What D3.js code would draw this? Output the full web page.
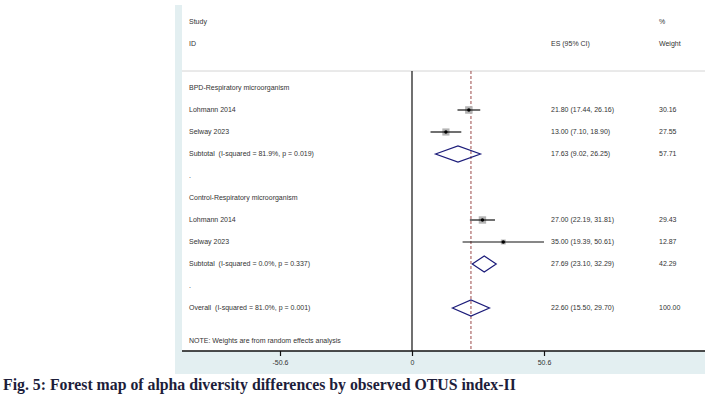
<!DOCTYPE html>
<html>
<head>
<meta charset="utf-8">
<script src="https://cdn.jsdelivr.net/npm/d3@7"></script>
<style>
  body { margin: 0; background: #fff; }
  svg { display: block; }
  .lbl { font-family: "Liberation Sans", Arial, sans-serif; font-size: 7px; fill: #333; white-space: pre; }
  .caption { font-family: "Liberation Serif", "Times New Roman", serif; font-weight: bold; font-size: 15.8px; fill: #1d1d3a; }
</style>
</head>
<body>
<div id="chart"></div>
<script>
const WIDTH = 714
const HEIGHT = 396

// data
const groups = ['BPD-Respiratory microorganism', 'Control-Respiratory microorganism']
const studyNames = ['Lohmann 2014', 'Selway 2023', 'Lohmann 2014', 'Selway 2023']
const studyGroup = [0, 0, 1, 1]
const studyES = [21.80, 13.00, 27.00, 35.00]
const studyLo = [17.44, 7.10, 22.19, 19.39]
const studyHi = [26.16, 18.90, 31.81, 50.61]
const studyWeight = [30.16, 27.55, 29.43, 12.87]

const subtotalLabels = ['Subtotal  (I-squared = 81.9%, p = 0.019)', 'Subtotal  (I-squared = 0.0%, p = 0.337)']
const subtotalES = [17.63, 27.69]
const subtotalLo = [9.02, 23.10]
const subtotalHi = [26.25, 32.29]
const subtotalWeight = [57.71, 42.29]

const overallLabel = 'Overall  (I-squared = 81.0%, p = 0.001)'
const overallES = 22.60
const overallLo = 15.50
const overallHi = 29.70
const overallWeight = 100.00

const xTicks = [-50.6, 0, 50.6]
const noteText = 'NOTE: Weights are from random effects analysis'
const captionText = 'Fig. 5: Forest map of alpha diversity differences by observed OTUS index-II'

const fmt = d3.format('.2f')
const ciText = (e, l, h) => `${fmt(e)} (${fmt(l)}, ${fmt(h)})`

// build the row list: group header, studies, subtotal, spacer ...
const rows = []
groups.forEach((g, gi) => {
    rows.push({ label: g, type: 'head' })
    studyNames.forEach((n, i) => {
        if (studyGroup[i] !== gi) return
        rows.push({ label: n, type: 'study', es: studyES[i], lo: studyLo[i], hi: studyHi[i], w: studyWeight[i] })
    })
    rows.push({ label: subtotalLabels[gi], type: 'sub', es: subtotalES[gi], lo: subtotalLo[gi], hi: subtotalHi[gi], w: subtotalWeight[gi] })
    rows.push({ label: '.', type: 'blank' })
})
rows.push({ label: overallLabel, type: 'sub', es: overallES, lo: overallLo, hi: overallHi, w: overallWeight })

const PANEL_L = 175, PANEL_R = 705, PANEL_T = 5, PANEL_B = 374
const PLOT_L = 182, AXIS_Y = 351, SEP_Y = 71
const COL_LABEL = 189, COL_ES = 551, COL_W = 659

const x = d3.scaleLinear().domain([-50.6, 50.6]).range([280, 544])
const y = d3.scaleLinear().domain([0, 10]).range([88, 308])
const wScale = d3.scaleSqrt().domain([0, 30.16]).range([0, 7.5])

const svg = d3.select('#chart').append('svg')
    .attr('width', WIDTH)
    .attr('height', HEIGHT)

svg.append('rect')
    .attr('x', PANEL_L).attr('y', PANEL_T)
    .attr('width', PANEL_R - PANEL_L).attr('height', PANEL_B - PANEL_T)
    .attr('fill', '#e3eff1')

svg.append('rect')
    .attr('x', PLOT_L).attr('y', PANEL_T)
    .attr('width', PANEL_R - PLOT_L).attr('height', AXIS_Y - PANEL_T)
    .attr('fill', '#fff')

// header
const header = [
    { t: 'Study', x: COL_LABEL, y: 22 },
    { t: 'ID', x: COL_LABEL, y: 44 },
    { t: 'ES (95% CI)', x: COL_ES, y: 44 },
    { t: '%', x: COL_W, y: 22 },
    { t: 'Weight', x: COL_W, y: 44 }
]
svg.selectAll('text.head').data(header).enter().append('text')
    .attr('class', 'lbl head')
    .attr('x', d => d.x).attr('y', d => d.y)
    .attr('dy', '0.35em')
    .text(d => d.t)

svg.append('line')
    .attr('x1', PLOT_L).attr('x2', PANEL_R)
    .attr('y1', SEP_Y).attr('y2', SEP_Y)
    .attr('stroke', '#d4d4d4').attr('stroke-width', 1)

// zero line and overall effect line
svg.append('line')
    .attr('x1', x(0)).attr('x2', x(0))
    .attr('y1', SEP_Y).attr('y2', AXIS_Y)
    .attr('stroke', '#111').attr('stroke-width', 1.2)

svg.append('line')
    .attr('x1', x(overallES)).attr('x2', x(overallES))
    .attr('y1', SEP_Y).attr('y2', AXIS_Y)
    .attr('stroke', '#8e3434').attr('stroke-width', 0.9)
    .attr('stroke-dasharray', '3,2')

// row labels
svg.selectAll('text.row').data(rows).enter().append('text')
    .attr('class', 'lbl row')
    .attr('x', COL_LABEL)
    .attr('y', (d, i) => y(i))
    .attr('dy', '0.35em')
    .text(d => d.label)

const est = rows.map((d, i) => ({ ...d, i })).filter(d => d.es !== undefined)

svg.selectAll('text.es').data(est).enter().append('text')
    .attr('class', 'lbl es')
    .attr('x', COL_ES).attr('y', d => y(d.i))
    .attr('dy', '0.35em')
    .text(d => ciText(d.es, d.lo, d.hi))

svg.selectAll('text.wt').data(est).enter().append('text')
    .attr('class', 'lbl wt')
    .attr('x', COL_W).attr('y', d => y(d.i))
    .attr('dy', '0.35em')
    .text(d => fmt(d.w))

// studies: weight square, CI line, point
const st = est.filter(d => d.type === 'study')
svg.selectAll('rect.box').data(st).enter().append('rect')
    .attr('x', d => x(d.es) - wScale(d.w) / 2)
    .attr('y', d => y(d.i) - wScale(d.w) / 2)
    .attr('width', d => wScale(d.w))
    .attr('height', d => wScale(d.w))
    .attr('fill', '#b4b4b4')

svg.selectAll('line.ci').data(st).enter().append('line')
    .attr('x1', d => x(d.lo)).attr('x2', d => x(d.hi))
    .attr('y1', d => y(d.i)).attr('y2', d => y(d.i))
    .attr('stroke', '#111').attr('stroke-width', 1.2)

svg.selectAll('circle.pt').data(st).enter().append('circle')
    .attr('cx', d => x(d.es)).attr('cy', d => y(d.i))
    .attr('r', 1.7)
    .attr('fill', '#000')

// pooled diamonds
const sub = est.filter(d => d.type === 'sub')
svg.selectAll('path.dia').data(sub).enter().append('path')
    .attr('d', d => {
        const cy = y(d.i), h = 8
        return `M${x(d.lo)},${cy}L${x(d.es)},${cy - h}L${x(d.hi)},${cy}L${x(d.es)},${cy + h}Z`
    })
    .attr('fill', 'none')
    .attr('stroke', '#1c1c7a')
    .attr('stroke-width', 1.2)

svg.append('text')
    .attr('class', 'lbl')
    .attr('x', COL_LABEL).attr('y', 341)
    .attr('dy', '0.35em')
    .text(noteText)

// axis
const xAxis = d3.axisBottom(x)
    .tickValues(xTicks)
    .tickSize(5)
    .tickPadding(4)
    .tickFormat(d => d)

const axisG = svg.append('g')
    .attr('transform', `translate(0, ${AXIS_Y})`)
    .call(xAxis)
axisG.select('.domain').remove()
axisG.selectAll('.tick line').attr('stroke', '#111').attr('stroke-width', 1.2)
axisG.selectAll('.tick text')
    .attr('class', 'lbl')
    .style('font-size', '7px')
    .attr('fill', '#333')

svg.append('line')
    .attr('x1', PLOT_L).attr('x2', PANEL_R)
    .attr('y1', AXIS_Y).attr('y2', AXIS_Y)
    .attr('stroke', '#111').attr('stroke-width', 1.4)

svg.append('text')
    .attr('class', 'caption')
    .attr('x', 3).attr('y', 390)
    .text(captionText)
</script>
</body>
</html>
